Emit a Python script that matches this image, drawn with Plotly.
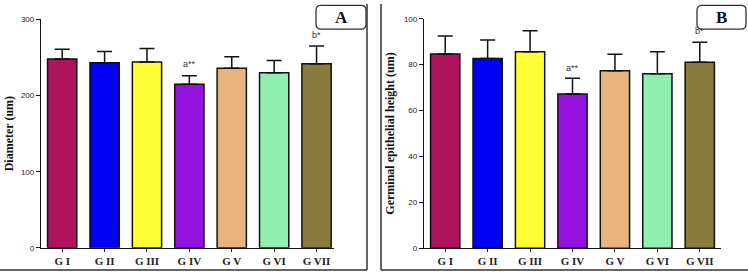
import plotly.graph_objects as go

W, H = 748, 278
groups = ["G I", "G II", "G III", "G IV", "G V", "G VI", "G VII"]
colors = ["#B0135E", "#0000F5", "#FFFF33", "#9412E0", "#E8B47E", "#90F0B0", "#8B7A3E"]

diam_mean = [248, 243, 244, 215, 236, 230, 242]
diam_sd = [13, 15, 18, 11, 15, 16, 23]
germ_mean = [84.6, 82.7, 85.6, 67.2, 77.3, 76.0, 81.0]
germ_sd = [7.9, 8.1, 9.2, 6.9, 7.2, 9.6, 8.8]

sig_labels = ["a**", "b*"]
sig_groups = ["G IV", "G VII"]
diam_sig_y = [241, 280]
germ_sig_y = [78.7, 94.6]


def px(x):
    return x / W


def py(y):
    return 1 - y / H


fig = go.Figure()
for xa, ya, m, s in [("x", "y", diam_mean, diam_sd), ("x2", "y2", germ_mean, germ_sd)]:
    fig.add_trace(go.Bar(
        x=groups, y=m, xaxis=xa, yaxis=ya, width=0.69,
        marker=dict(color=colors, line=dict(color="#111", width=1.5)),
        error_y=dict(type="data", array=s, arrayminus=[0] * len(s), symmetric=False,
                     color="#111", thickness=1.5, width=7.5),
        showlegend=False,
    ))

tickfont_y = dict(family="Liberation Sans", size=8, color="#222")
tickfont_x = dict(family="Liberation Serif", size=11, color="#222")
titlefont = dict(family="Liberation Serif", size=12, color="#111")

common_y = dict(showgrid=False, zeroline=False, showline=True, linecolor="#111", linewidth=1.3,
                ticks="outside", ticklen=4, tickcolor="#111", tickfont=tickfont_y)
common_x = dict(showgrid=False, showline=True, linecolor="#111", linewidth=1.3,
                ticks="outside", ticklen=3, tickcolor="#111", tickfont=tickfont_x,
                type="category")

fig.update_layout(
    width=W, height=H, margin=dict(l=0, r=0, t=0, b=0),
    paper_bgcolor="white", plot_bgcolor="white", bargap=0.3,
    xaxis=dict(domain=[px(41), px(333.5)], range=[-0.5, 6.4], anchor="y", **common_x),
    yaxis=dict(domain=[py(252), py(16)], range=[0, 300], tickvals=[0, 100, 200, 300], anchor="x",
               title=dict(text="<b>Diameter (um)</b>", font=titlefont, standoff=4), **common_y),
    xaxis2=dict(domain=[px(424), px(721)], range=[-0.5, 6.5], anchor="y2", **common_x),
    yaxis2=dict(domain=[py(252.3), py(15.3)], range=[0, 100], tickvals=[0, 20, 40, 60, 80, 100], anchor="x2",
                title=dict(text="<b>Germinal epithelial height (um)</b>", font=titlefont, standoff=6), **common_y),
)
fig.update_xaxes(tickprefix="<b>", ticksuffix="</b>")

annfont = dict(family="Liberation Sans", size=9, color="#333")
for lab, g, yv in zip(sig_labels, sig_groups, diam_sig_y):
    fig.add_annotation(x=g, y=yv, xref="x", yref="y", text=lab, showarrow=False, font=annfont)
for lab, g, yv in zip(sig_labels, sig_groups, germ_sig_y):
    fig.add_annotation(x=g, y=yv, xref="x2", yref="y2", text=lab, showarrow=False, font=annfont)

# panel frames
line = dict(color="#333", width=1.5)
fig.add_shape(type="line", xref="paper", yref="paper", x0=0, x1=px(367), y0=py(275), y1=py(275), line=line)
fig.add_shape(type="line", xref="paper", yref="paper", x0=px(367), x1=px(367), y0=py(0), y1=py(275), line=line)
fig.add_shape(type="line", xref="paper", yref="paper", x0=px(381), x1=px(381), y0=py(0), y1=py(275), line=line)
fig.add_shape(type="line", xref="paper", yref="paper", x0=px(381), x1=1, y0=py(275), y1=py(275), line=line)


def rounded_box(x0, y0, x1, y1, r=5):
    rx, ry = r / W, r / H
    X0, X1 = px(x0), px(x1)
    Y0, Y1 = py(y1), py(y0)  # bottom, top
    return (f"M {X0+rx},{Y1} L {X1-rx},{Y1} Q {X1},{Y1} {X1},{Y1-ry} "
            f"L {X1},{Y0+ry} Q {X1},{Y0} {X1-rx},{Y0} L {X0+rx},{Y0} "
            f"Q {X0},{Y0} {X0},{Y0+ry} L {X0},{Y1-ry} Q {X0},{Y1} {X0+rx},{Y1} Z")


for lab, (bx0, bx1) in [("A", (316, 366)), ("B", (697, 746))]:
    fig.add_shape(type="path", xref="paper", yref="paper", path=rounded_box(bx0, 1.5, bx1, 26),
                  line=dict(color="#333", width=1.3), fillcolor="white")
    fig.add_annotation(x=px((bx0 + bx1) / 2), y=py(14), xref="paper", yref="paper",
                       xanchor="center", yanchor="middle",
                       text=f"<b>{lab}</b>", showarrow=False,
                       font=dict(family="Liberation Serif", size=17, color="#111"))

fig.write_html("out.html")
